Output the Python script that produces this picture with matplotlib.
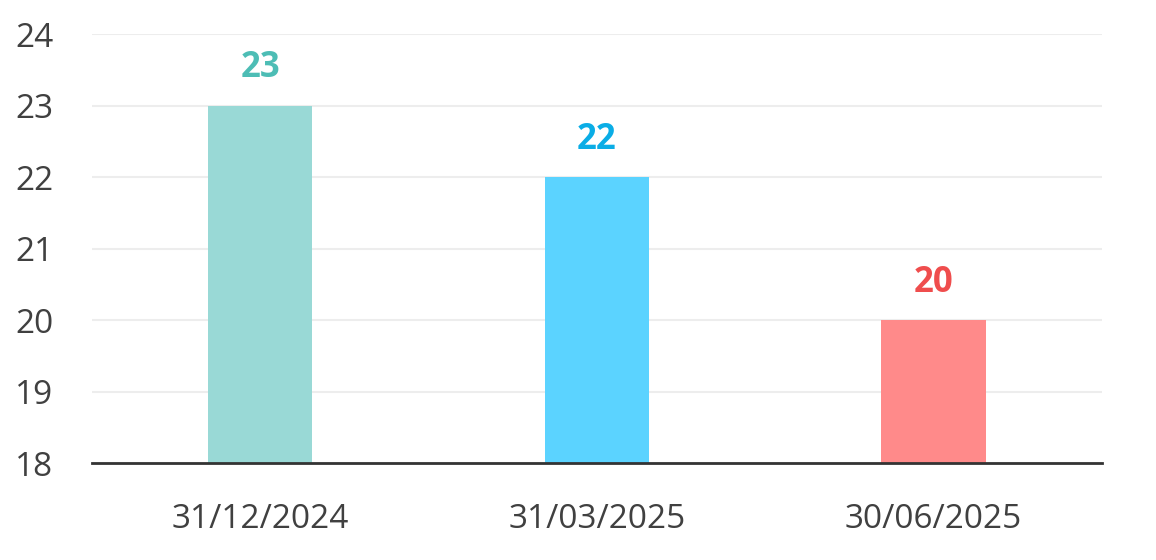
import matplotlib
matplotlib.use('Agg')
import matplotlib.pyplot as plt

# data
dates = ['31/12/2024', '31/03/2025', '30/06/2025']
values = [23, 22, 20]
bar_colors = ['#99D9D6', '#5BD3FF', '#FF8A8A']
label_colors = ['#4DBDB5', '#0AADE6', '#EF4D4D']
yticks = [18, 19, 20, 21, 22, 23, 24]

plt.rcParams['font.family'] = ['Open Sans', 'DejaVu Sans']

fig = plt.figure(figsize=(11.56, 5.6), dpi=100)
ax = fig.add_axes([0.0796, 0.173, 0.8735, 0.766])

x = range(len(dates))
ax.bar(x, [v - 18 for v in values], bottom=18, width=0.31, color=bar_colors, zorder=3)

for i, v in enumerate(values):
    ax.annotate(str(v), (i, v), xytext=(0, 27), textcoords='offset points',
                ha='center', va='center', fontsize=25, fontweight='bold',
                color=label_colors[i])

ax.set_xlim(-0.5, 2.5)
ax.set_ylim(18, 24)
ax.set_yticks(yticks)
ax.set_xticks(list(x))
ax.set_xticklabels(dates)
ax.grid(axis='y', color='#EDEDED', linewidth=1.5, zorder=0)
ax.set_axisbelow(True)

for s in ['top', 'right', 'left']:
    ax.spines[s].set_visible(False)
ax.spines['bottom'].set_color('#333333')
ax.spines['bottom'].set_linewidth(2)
ax.spines['bottom'].set_zorder(4)

ax.tick_params(axis='y', length=0, pad=28, labelsize=24, labelcolor='#404040')
ax.tick_params(axis='x', length=0, pad=29, labelsize=24, labelcolor='#404040')

fig.savefig('out.png', dpi=100, facecolor='white')
